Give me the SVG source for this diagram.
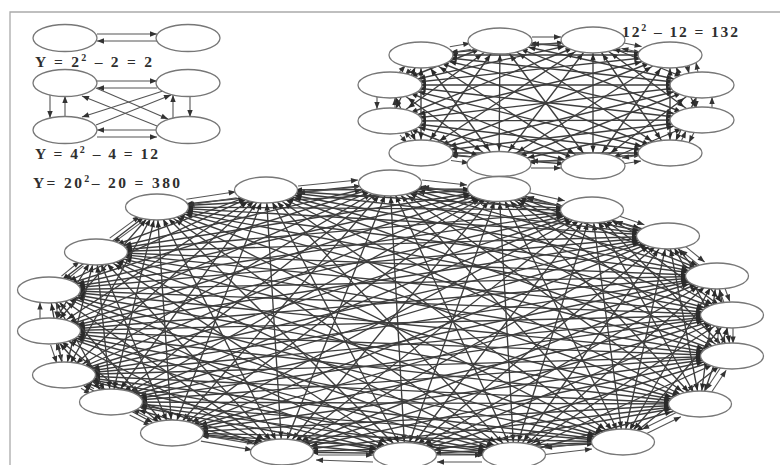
<svg xmlns="http://www.w3.org/2000/svg" width="780" height="465" viewBox="0 0 780 465">
<style>
.mesh path{fill:none;stroke:#3d3d3d;stroke-width:1.35}
.h{marker-start:url(#mh);marker-end:url(#mh)}
.m{marker-start:url(#mm);marker-end:url(#mm)}
.s{marker-start:url(#ms);marker-end:url(#ms)}
.v{marker-start:url(#mv);marker-end:url(#mv)}
.out path{fill:none;stroke:#555;stroke-width:1.1;marker-end:url(#m0)}
ellipse{fill:#fff;stroke:#777;stroke-width:1.3}
.lbl{font-family:"Liberation Serif","Times New Roman",serif;font-weight:bold;font-size:15.5px;fill:#2e2e2e}
.sup{font-size:10px}
.frame{stroke:#aaa;stroke-width:1.3;fill:none}
</style>
<defs>
<marker id="m0" markerUnits="userSpaceOnUse" markerWidth="1" markerHeight="1" orient="auto" style="overflow:visible"><path d="M0,0L-7,-2.7L-7,2.7z" fill="#333"/></marker>
<marker id="mh" markerUnits="userSpaceOnUse" markerWidth="1" markerHeight="1" orient="auto-start-reverse" style="overflow:visible"><path d="M-29,0L-36,-2.7L-36,2.7z" fill="#2a2a2a"/></marker>
<marker id="mm" markerUnits="userSpaceOnUse" markerWidth="1" markerHeight="1" orient="auto-start-reverse" style="overflow:visible"><path d="M-22,0L-29,-2.7L-29,2.7z" fill="#2a2a2a"/></marker>
<marker id="ms" markerUnits="userSpaceOnUse" markerWidth="1" markerHeight="1" orient="auto-start-reverse" style="overflow:visible"><path d="M-16.5,0L-23.5,-2.7L-23.5,2.7z" fill="#2a2a2a"/></marker>
<marker id="mv" markerUnits="userSpaceOnUse" markerWidth="1" markerHeight="1" orient="auto-start-reverse" style="overflow:visible"><path d="M-13.5,0L-20.5,-2.7L-20.5,2.7z" fill="#2a2a2a"/></marker>
</defs>
<rect width="780" height="465" fill="#fff"/>
<path class="frame" d="M10,465V12H780"/>
<g id="labels">
<text class="lbl" x="35" y="67" textLength="117" lengthAdjust="spacing">Y = 2<tspan class="sup" dy="-6">2</tspan><tspan dy="6"> – 2 = 2</tspan></text>
<text class="lbl" x="35" y="159" textLength="123" lengthAdjust="spacing">Y = 4<tspan class="sup" dy="-6">2</tspan><tspan dy="6"> – 4 = 12</tspan></text>
<text class="lbl" x="33" y="188" textLength="147" lengthAdjust="spacing">Y= 20<tspan class="sup" dy="-6">2</tspan><tspan dy="6">– 20 = 380</tspan></text>
<text class="lbl" x="622" y="37" textLength="116" lengthAdjust="spacing">12<tspan class="sup" dy="-6">2</tspan><tspan dy="6"> – 12 = 132</tspan></text>
</g>
<g id="connectors">
<g class="mesh" id="mesh12">
<path class="h" d="M500 41L670 55"/><path class="h" d="M500 41L702 85"/><path class="m" d="M500 41L702 120"/><path class="m" d="M500 41L670 153"/><path class="s" d="M500 41L593 166"/><path class="v" d="M500 41L499 164"/><path class="s" d="M500 41L421 153"/><path class="m" d="M500 41L390 121"/><path class="m" d="M500 41L390 85"/>
<path class="m" d="M593 40L702 85"/><path class="m" d="M593 40L702 120"/><path class="s" d="M593 40L670 153"/><path class="v" d="M593 40L593 166"/><path class="s" d="M593 40L499 164"/><path class="m" d="M593 40L421 153"/><path class="m" d="M593 40L390 121"/><path class="h" d="M593 40L390 85"/><path class="h" d="M593 40L421 55"/>
<path class="v" d="M670 55L702 120"/><path class="v" d="M670 55L670 153"/><path class="s" d="M670 55L593 166"/><path class="m" d="M670 55L499 164"/><path class="m" d="M670 55L421 153"/><path class="h" d="M670 55L390 121"/><path class="h" d="M670 55L390 85"/><path class="h" d="M670 55L421 55"/>
<path class="v" d="M702 85L670 153"/><path class="m" d="M702 85L593 166"/><path class="m" d="M702 85L499 164"/><path class="h" d="M702 85L421 153"/><path class="h" d="M702 85L390 121"/><path class="h" d="M702 85L390 85"/><path class="h" d="M702 85L421 55"/>
<path class="m" d="M702 120L593 166"/><path class="h" d="M702 120L499 164"/><path class="h" d="M702 120L421 153"/><path class="h" d="M702 120L390 121"/><path class="h" d="M702 120L390 85"/><path class="h" d="M702 120L421 55"/>
<path class="h" d="M670 153L499 164"/><path class="h" d="M670 153L421 153"/><path class="h" d="M670 153L390 121"/><path class="h" d="M670 153L390 85"/><path class="m" d="M670 153L421 55"/>
<path class="h" d="M593 166L421 153"/><path class="h" d="M593 166L390 121"/><path class="m" d="M593 166L390 85"/><path class="m" d="M593 166L421 55"/>
<path class="m" d="M499 164L390 121"/><path class="m" d="M499 164L390 85"/><path class="s" d="M499 164L421 55"/>
<path class="v" d="M421 153L390 85"/><path class="v" d="M421 153L421 55"/>
<path class="v" d="M390 121L421 55"/>
</g>
<g class="mesh" id="mesh20">
<path class="h" d="M390 183L592 210"/><path class="h" d="M390 183L668 236"/><path class="h" d="M390 183L717 276"/><path class="m" d="M390 183L732 315"/><path class="m" d="M390 183L732 356"/><path class="m" d="M390 183L700 404"/><path class="s" d="M390 183L623 442"/><path class="v" d="M390 183L514 455"/><path class="v" d="M390 183L405 455"/><path class="v" d="M390 183L282 452"/><path class="s" d="M390 183L172 433"/><path class="s" d="M390 183L111 402"/><path class="m" d="M390 183L64 375"/><path class="m" d="M390 183L49 331"/><path class="m" d="M390 183L49 290"/><path class="h" d="M390 183L96 252"/><path class="h" d="M390 183L157 207"/>
<path class="h" d="M499 189L668 236"/><path class="m" d="M499 189L717 276"/><path class="m" d="M499 189L732 315"/><path class="m" d="M499 189L732 356"/><path class="s" d="M499 189L700 404"/><path class="v" d="M499 189L623 442"/><path class="v" d="M499 189L514 455"/><path class="v" d="M499 189L405 455"/><path class="s" d="M499 189L282 452"/><path class="s" d="M499 189L172 433"/><path class="m" d="M499 189L111 402"/><path class="m" d="M499 189L64 375"/><path class="m" d="M499 189L49 331"/><path class="h" d="M499 189L49 290"/><path class="h" d="M499 189L96 252"/><path class="h" d="M499 189L157 207"/><path class="h" d="M499 189L266 190"/>
<path class="m" d="M592 210L717 276"/><path class="s" d="M592 210L732 315"/><path class="s" d="M592 210L732 356"/><path class="v" d="M592 210L700 404"/><path class="v" d="M592 210L623 442"/><path class="v" d="M592 210L514 455"/><path class="s" d="M592 210L405 455"/><path class="s" d="M592 210L282 452"/><path class="m" d="M592 210L172 433"/><path class="m" d="M592 210L111 402"/><path class="m" d="M592 210L64 375"/><path class="h" d="M592 210L49 331"/><path class="h" d="M592 210L49 290"/><path class="h" d="M592 210L96 252"/><path class="h" d="M592 210L157 207"/><path class="h" d="M592 210L266 190"/>
<path class="s" d="M668 236L732 315"/><path class="v" d="M668 236L732 356"/><path class="v" d="M668 236L700 404"/><path class="v" d="M668 236L623 442"/><path class="s" d="M668 236L514 455"/><path class="s" d="M668 236L405 455"/><path class="m" d="M668 236L282 452"/><path class="m" d="M668 236L172 433"/><path class="m" d="M668 236L111 402"/><path class="h" d="M668 236L64 375"/><path class="h" d="M668 236L49 331"/><path class="h" d="M668 236L49 290"/><path class="h" d="M668 236L96 252"/><path class="h" d="M668 236L157 207"/><path class="h" d="M668 236L266 190"/>
<path class="v" d="M717 276L732 356"/><path class="v" d="M717 276L700 404"/><path class="v" d="M717 276L623 442"/><path class="s" d="M717 276L514 455"/><path class="m" d="M717 276L405 455"/><path class="m" d="M717 276L282 452"/><path class="h" d="M717 276L172 433"/><path class="h" d="M717 276L111 402"/><path class="h" d="M717 276L64 375"/><path class="h" d="M717 276L49 331"/><path class="h" d="M717 276L49 290"/><path class="h" d="M717 276L96 252"/><path class="h" d="M717 276L157 207"/><path class="h" d="M717 276L266 190"/>
<path class="v" d="M732 315L700 404"/><path class="s" d="M732 315L623 442"/><path class="m" d="M732 315L514 455"/><path class="m" d="M732 315L405 455"/><path class="m" d="M732 315L282 452"/><path class="h" d="M732 315L172 433"/><path class="h" d="M732 315L111 402"/><path class="h" d="M732 315L64 375"/><path class="h" d="M732 315L49 331"/><path class="h" d="M732 315L49 290"/><path class="h" d="M732 315L96 252"/><path class="h" d="M732 315L157 207"/><path class="h" d="M732 315L266 190"/>
<path class="s" d="M732 356L623 442"/><path class="m" d="M732 356L514 455"/><path class="m" d="M732 356L405 455"/><path class="h" d="M732 356L282 452"/><path class="h" d="M732 356L172 433"/><path class="h" d="M732 356L111 402"/><path class="h" d="M732 356L64 375"/><path class="h" d="M732 356L49 331"/><path class="h" d="M732 356L49 290"/><path class="h" d="M732 356L96 252"/><path class="h" d="M732 356L157 207"/><path class="m" d="M732 356L266 190"/>
<path class="h" d="M700 404L514 455"/><path class="h" d="M700 404L405 455"/><path class="h" d="M700 404L282 452"/><path class="h" d="M700 404L172 433"/><path class="h" d="M700 404L111 402"/><path class="h" d="M700 404L64 375"/><path class="h" d="M700 404L49 331"/><path class="h" d="M700 404L49 290"/><path class="h" d="M700 404L96 252"/><path class="m" d="M700 404L157 207"/><path class="m" d="M700 404L266 190"/>
<path class="h" d="M623 442L405 455"/><path class="h" d="M623 442L282 452"/><path class="h" d="M623 442L172 433"/><path class="h" d="M623 442L111 402"/><path class="h" d="M623 442L64 375"/><path class="h" d="M623 442L49 331"/><path class="h" d="M623 442L49 290"/><path class="m" d="M623 442L96 252"/><path class="m" d="M623 442L157 207"/><path class="m" d="M623 442L266 190"/>
<path class="h" d="M514 455L282 452"/><path class="h" d="M514 455L172 433"/><path class="h" d="M514 455L111 402"/><path class="h" d="M514 455L64 375"/><path class="h" d="M514 455L49 331"/><path class="m" d="M514 455L49 290"/><path class="m" d="M514 455L96 252"/><path class="m" d="M514 455L157 207"/><path class="s" d="M514 455L266 190"/>
<path class="h" d="M405 455L172 433"/><path class="h" d="M405 455L111 402"/><path class="h" d="M405 455L64 375"/><path class="m" d="M405 455L49 331"/><path class="m" d="M405 455L49 290"/><path class="m" d="M405 455L96 252"/><path class="s" d="M405 455L157 207"/><path class="v" d="M405 455L266 190"/>
<path class="h" d="M282 452L111 402"/><path class="m" d="M282 452L64 375"/><path class="m" d="M282 452L49 331"/><path class="m" d="M282 452L49 290"/><path class="s" d="M282 452L96 252"/><path class="v" d="M282 452L157 207"/><path class="v" d="M282 452L266 190"/>
<path class="m" d="M172 433L64 375"/><path class="s" d="M172 433L49 331"/><path class="s" d="M172 433L49 290"/><path class="v" d="M172 433L96 252"/><path class="v" d="M172 433L157 207"/><path class="v" d="M172 433L266 190"/>
<path class="s" d="M111 402L49 331"/><path class="v" d="M111 402L49 290"/><path class="v" d="M111 402L96 252"/><path class="v" d="M111 402L157 207"/><path class="s" d="M111 402L266 190"/>
<path class="v" d="M64 375L49 290"/><path class="v" d="M64 375L96 252"/><path class="v" d="M64 375L157 207"/><path class="s" d="M64 375L266 190"/>
<path class="v" d="M49 331L96 252"/><path class="s" d="M49 331L157 207"/><path class="m" d="M49 331L266 190"/>
<path class="s" d="M49 290L157 207"/><path class="m" d="M49 290L266 190"/>
<path class="m" d="M96 252L266 190"/>
</g>
<g class="out" id="ring12">
<path d="M532 37L561 37"/><path d="M561 44L532 44"/>
<path d="M622.6 42.7L641.6 46.5"/><path d="M640.4 52.3L621.4 48.5"/>
<path d="M687 65L689 73.5"/><path d="M698 72.5L696 62.5"/>
<path d="M696 97.5L696 108"/><path d="M712 108L712 97"/>
<path d="M694 132.5L689 142.5"/><path d="M681 141.5L686 131"/>
<path d="M641 155L622 158"/><path d="M622 164L641 161"/>
<path d="M561 161L531 161"/><path d="M531 168L561 168"/>
<path d="M469 156.5L451 154"/><path d="M451 160.5L469 163"/>
<path d="M411 139L404 131"/><path d="M400 135L407 143"/>
<path d="M377 97L377 109"/><path d="M395 108L395 98"/>
<path d="M399.5 72L405.5 65.5"/><path d="M411 69L405 75.5"/>
<path d="M449.8 46.8L470.2 43.2"/><path d="M471.2 49.2L450.8 52.8"/>
</g>
<g class="out" id="ring20">
<path d="M422 180L467 185"/><path d="M467 192L422 187"/>
<path d="M527.7 192.4L564.7 200.8"/><path d="M563.3 206.6L526.3 198.2"/>
<path d="M617.6 215.6L644.4 224.8"/><path d="M642.4 230.4L615.6 221.2"/>
<path d="M684.2 245.4L704.6 262"/><path d="M700.8 266.6L680.4 250"/>
<path d="M724.8 287.8L729.8 301.5"/><path d="M724.2 303.2L719.2 289.5"/>
<path d="M733 328L733 343.5"/><path d="M718 344L718 327"/>
<path d="M721.2 366.8L705.8 389.8"/><path d="M710.8 393.2L726.2 370.2"/>
<path d="M678.3 411.4L642.1 429.2"/><path d="M644.7 434.6L680.9 416.8"/>
<path d="M592 442.5L545 448"/><path d="M545 454.5L592 449"/>
<path d="M437 455L482 455"/><path d="M482 462L437 462"/>
<path d="M318 455L373 455"/><path d="M373 462L316 460"/>
<path d="M253.1 443.9L201.9 435.1"/><path d="M200.9 441.1L252.1 449.9"/>
<path d="M153.4 420.1L132.4 409.5"/><path d="M129.6 414.9L150.6 425.5"/>
<path d="M94 388.8L84 383"/><path d="M81 388.2L91 394"/>
<path d="M62.4 361.1L56.2 343"/><path d="M50.6 344.9L56.8 363"/>
<path d="M57 303.6L57 318.4"/><path d="M40 318.5L40 302.5"/>
<path d="M61.5 276.1L79.7 261.3"/><path d="M83.5 265.9L65.3 280.7"/>
<path d="M109.7 238.1L139.7 216.1"/><path d="M143.3 220.9L113.3 242.9"/>
<path d="M186.3 199.3L235.7 191.7"/><path d="M236.7 197.7L187.3 205.3"/>
<path d="M298 186L358 180"/><path d="M358 187L298 193"/>
</g>
<g class="out" id="small">
<path d="M97 34L157 34"/><path d="M157 41L97 41"/>
<path d="M97 81L157 81"/><path d="M157 88L97 88"/>
<path d="M97 137L157 137"/><path d="M157 130L97 130"/>
<path d="M50 95L50 118"/><path d="M65 117L65 96"/>
<path d="M190 96L190 117"/><path d="M173 118L173 95"/>
<path d="M96 88L168 119"/><path d="M157 126L82 96"/>
<path d="M163 91L82 117"/><path d="M96 125L171 95"/>
</g>
</g>
<g id="nodes">
<g id="g2a"><ellipse cx="65" cy="38" rx="32" ry="13.5"/></g>
<g id="g2b"><ellipse cx="188" cy="38" rx="32" ry="13.5"/></g>
<g id="g4a"><ellipse cx="65" cy="83" rx="32" ry="13.5"/></g>
<g id="g4b"><ellipse cx="188" cy="83" rx="32" ry="13.5"/></g>
<g id="g4c"><ellipse cx="65" cy="130" rx="32" ry="13.5"/></g>
<g id="g4d"><ellipse cx="188" cy="130" rx="32" ry="13.5"/></g>
<g id="a1"><ellipse cx="500" cy="41" rx="32" ry="13"/></g>
<g id="a2"><ellipse cx="593" cy="40" rx="32" ry="13"/></g>
<g id="a3"><ellipse cx="670" cy="55" rx="32" ry="13"/></g>
<g id="a4"><ellipse cx="702" cy="85" rx="32" ry="13"/></g>
<g id="a5"><ellipse cx="702" cy="120" rx="32" ry="13"/></g>
<g id="a6"><ellipse cx="670" cy="153" rx="32" ry="13"/></g>
<g id="a7"><ellipse cx="593" cy="166" rx="32" ry="13"/></g>
<g id="a8"><ellipse cx="499" cy="164" rx="32" ry="12.5"/></g>
<g id="a9"><ellipse cx="421" cy="153" rx="32" ry="13"/></g>
<g id="a10"><ellipse cx="390" cy="121" rx="32" ry="13"/></g>
<g id="a11"><ellipse cx="390" cy="85" rx="32" ry="13"/></g>
<g id="a12"><ellipse cx="421" cy="55" rx="32" ry="13"/></g>
<g id="b1"><ellipse cx="390" cy="183" rx="31.5" ry="13"/></g>
<g id="b2"><ellipse cx="499" cy="189" rx="31.5" ry="12.5"/></g>
<g id="b3"><ellipse cx="592" cy="210" rx="31.5" ry="13"/></g>
<g id="b4"><ellipse cx="668" cy="236" rx="31.5" ry="13"/></g>
<g id="b5"><ellipse cx="717" cy="276" rx="31.5" ry="13"/></g>
<g id="b6"><ellipse cx="732" cy="315" rx="31.5" ry="13"/></g>
<g id="b7"><ellipse cx="732" cy="356" rx="31.5" ry="13"/></g>
<g id="b8"><ellipse cx="700" cy="404" rx="31.5" ry="13"/></g>
<g id="b9"><ellipse cx="623" cy="442" rx="31.5" ry="13"/></g>
<g id="b10"><ellipse cx="514" cy="455" rx="31.5" ry="12.5"/></g>
<g id="b11"><ellipse cx="405" cy="455" rx="31.5" ry="12.5"/></g>
<g id="b12"><ellipse cx="282" cy="452" rx="31.5" ry="13"/></g>
<g id="b13"><ellipse cx="172" cy="433" rx="31.5" ry="13"/></g>
<g id="b14"><ellipse cx="111" cy="402" rx="31.5" ry="13"/></g>
<g id="b15"><ellipse cx="64" cy="375" rx="31.5" ry="13"/></g>
<g id="b16"><ellipse cx="49" cy="331" rx="31.5" ry="13"/></g>
<g id="b17"><ellipse cx="49" cy="290" rx="31.5" ry="13"/></g>
<g id="b18"><ellipse cx="96" cy="252" rx="31.5" ry="13"/></g>
<g id="b19"><ellipse cx="157" cy="207" rx="31.5" ry="13"/></g>
<g id="b20"><ellipse cx="266" cy="190" rx="31.5" ry="13"/></g>
</g>
</svg>
